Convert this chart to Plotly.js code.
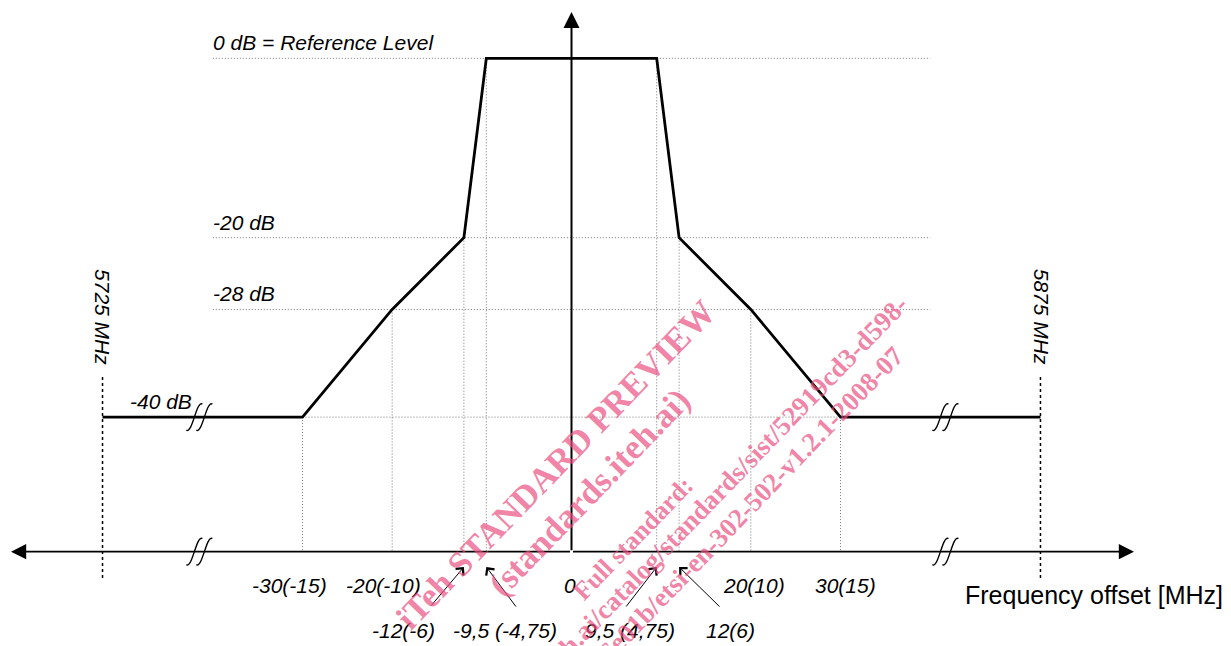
<!DOCTYPE html>
<html><head><meta charset="utf-8">
<script src="https://cdn.plot.ly/plotly-3.0.1.min.js"></script>
<style>html,body{margin:0;padding:0;background:#fff;} #chart{width:1231px;height:646px;}</style>
</head><body><div id="chart"></div>
<script>
// ---------- data ----------
const freqOffsets = [-30, -20, -12, -9.5, 9.5, 12, 20, 30];      // MHz offset (20 MHz channel)
const maskLevels  = [-40, -28, -20, 0, 0, -20, -28, -40];         // dB
const edgeOffsets = [-52.3, 52.3];                                 // drawn band-edge positions (after axis break)
const edgeLabels  = ['5725 MHz', '5875 MHz'];
const floorLevel  = -40;
const refLevels   = [0, -20, -28];
const levelLabels = ['0 dB = Reference Level', '-20 dB', '-28 dB', '-40 dB'];
const labelLevels = [0, -20, -28, -40];
const mainTickVals   = [-30, -20, 0, 20, 30];
const mainTickLabels = ['-30(-15)', '-20(-10)', '0', '20(10)', '30(15)'];
const arrowTickVals   = [-12, -9.5, 9.5, 12];
const arrowTickLabels = ['-12(-6)', '-9,5 (-4,75)', '9,5 (4,75)', '12(6)'];
const breakOffsets = [-41.5, 41.7];
const axisTitle = 'Frequency offset [MHz]';
const watermarkLines = ['iTeh STANDARD PREVIEW', '(standards.iteh.ai)', 'Full standard:',
  'https://standards.iteh.ai/catalog/standards/sist/52919cd3-d598-',
  '6e01b/etsi-en-302-502-v1.2.1-2008-07'];

// ---------- geometry / style ----------
const PX = 8.967, PY = 8.97;            // pixels per unit
const X0 = 571.5, Y0 = 58.3;            // pixel of (0, 0 dB)
const fx = p => (p - X0) / PX;          // pixel -> data
const fy = p => (Y0 - p) / PY;
const dx = p => p / PX, dy = p => -p / PY;
const AXIS_Y = -55;
const GRID_L = -40, GRID_R = 40;
const LABEL_FONT = {family: 'Liberation Sans, Arial, sans-serif', size: 21, color: '#000'};

// ---------- traces ----------
const traces = [];
let hx = [], hy = [];
refLevels.forEach(l => { hx.push(GRID_L, GRID_R, null); hy.push(l, l, null); });
hx.push(freqOffsets[0], freqOffsets[freqOffsets.length - 1], null); hy.push(floorLevel, floorLevel, null);
freqOffsets.forEach((f, i) => { hx.push(f, f, null); hy.push(maskLevels[i], AXIS_Y, null); });
traces.push({x: hx, y: hy, mode: 'lines', line: {color: '#777', width: 1, dash: '1px,2px'}, hoverinfo: 'skip'});
let ex = [], ey = [];
edgeOffsets.forEach(e => { ex.push(e, e, null); ey.push(fy(377), fy(578), null); });
traces.push({x: ex, y: ey, mode: 'lines', line: {color: '#000', width: 1.5, dash: '3px,3px'}, hoverinfo: 'skip'});
traces.push({
  x: [edgeOffsets[0], ...freqOffsets, edgeOffsets[1]],
  y: [floorLevel, ...maskLevels, floorLevel],
  mode: 'lines', line: {color: '#000', width: 2.8}, hoverinfo: 'skip'
});

// ---------- shapes (axis break marks) ----------
const shapes = [];
function breakPath(cx, cy, off) {
  const p = (a, b) => (cx + dx(a + off)) + ',' + (cy + dy(b));
  return 'M' + p(-8, 13) + ' C' + p(-2, 17) + ' ' + p(2, -17) + ' ' + p(8, -13);
}
breakOffsets.forEach(b => {
  [floorLevel, AXIS_Y].forEach(l => {
    [-5, 5].forEach(o => shapes.push({type: 'path', xref: 'x', yref: 'y', path: breakPath(b, l, o),
      line: {color: '#000', width: 1.4}}));
  });
});

// ---------- annotations ----------
const ann = [];
ann.push({x: fx(11), y: AXIS_Y, ax: 0, ay: AXIS_Y, xref: 'x', yref: 'y', axref: 'x', ayref: 'y', text: '',
  showarrow: true, arrowhead: 2, arrowsize: 1.9, arrowwidth: 1.6, arrowcolor: '#000'});
ann.push({x: fx(1134), y: AXIS_Y, ax: 0, ay: AXIS_Y, xref: 'x', yref: 'y', axref: 'x', ayref: 'y', text: '',
  showarrow: true, arrowhead: 2, arrowsize: 1.9, arrowwidth: 1.6, arrowcolor: '#000'});
ann.push({x: 0, y: fy(12), ax: 0, ay: AXIS_Y, xref: 'x', yref: 'y', axref: 'x', ayref: 'y', text: '',
  showarrow: true, arrowhead: 2, arrowsize: 1.6, arrowwidth: 2, arrowcolor: '#000'});
const levelLabelX = [fx(211), fx(211), fx(211), fx(128)];
levelLabels.forEach((t, i) => ann.push({x: levelLabelX[i], y: labelLevels[i] + 1.75, xref: 'x', yref: 'y',
  text: '<i>' + t + '</i>', showarrow: false, xanchor: 'left', yanchor: 'middle', font: LABEL_FONT}));
edgeLabels.forEach((t, i) => ann.push({x: edgeOffsets[i] + (i ? 0.2 : 0.05), y: fy(317), xref: 'x', yref: 'y',
  text: '<i>' + t + '</i>', showarrow: false, textangle: 90, xanchor: 'center', yanchor: 'middle', font: LABEL_FONT}));
const mainShift = [-13, -9, -1.5, 3, 5];
mainTickLabels.forEach((t, i) => ann.push({x: mainTickVals[i] + dx(mainShift[i]), y: fy(585), xref: 'x', yref: 'y',
  text: '<i>' + t + '</i>', showarrow: false, xanchor: 'center', yanchor: 'middle', font: LABEL_FONT}));
// arrowed tick labels: tails and labels at fixed places under the axis, tips on the frequency value
const tailPx = [[430, 607], [517, 608], [625, 608], [721, 608]];
const labPx  = [403, 505, 630, 730];
arrowTickVals.forEach((v, i) => {
  ann.push({x: v, y: fy(567), ax: fx(tailPx[i][0]), ay: fy(tailPx[i][1]), xref: 'x', yref: 'y',
    axref: 'x', ayref: 'y', text: '', showarrow: true, arrowhead: 4, arrowsize: 2, arrowwidth: 1, arrowcolor: '#000'});
  ann.push({x: fx(labPx[i]), y: fy(630), xref: 'x', yref: 'y', text: '<i>' + arrowTickLabels[i] + '</i>',
    showarrow: false, xanchor: 'center', yanchor: 'middle', font: LABEL_FONT});
});
ann.push({x: fx(963), y: fy(595), xref: 'x', yref: 'y', text: axisTitle, showarrow: false,
  xanchor: 'left', yanchor: 'middle', font: {family: 'Liberation Sans, Arial, sans-serif', size: 25, color: '#000'}});
const wmPos  = [[555, 465], [589, 492], [633, 538], [653, 559], [751, 504]];
const wmSize = [35, 35, 26, 27, 27];
watermarkLines.forEach((t, i) => ann.push({x: fx(wmPos[i][0]), y: fy(wmPos[i][1]), xref: 'x', yref: 'y',
  text: '<b>' + t + '</b>', showarrow: false, textangle: -46, xanchor: 'center', yanchor: 'middle',
  font: {family: 'Liberation Serif, Times New Roman, serif', size: wmSize[i], color: 'rgba(234,78,128,0.7)'}}));

const layout = {
  width: 1231, height: 646, margin: {l: 0, r: 0, t: 0, b: 0},
  paper_bgcolor: '#fff', plot_bgcolor: '#fff', showlegend: false,
  xaxis: {range: [fx(0), fx(1231)], visible: false, fixedrange: true},
  yaxis: {range: [fy(646), fy(0)], visible: false, fixedrange: true},
  shapes: shapes, annotations: ann
};
Plotly.newPlot('chart', traces, layout, {staticPlot: true, displayModeBar: false});
</script>
</body></html>
